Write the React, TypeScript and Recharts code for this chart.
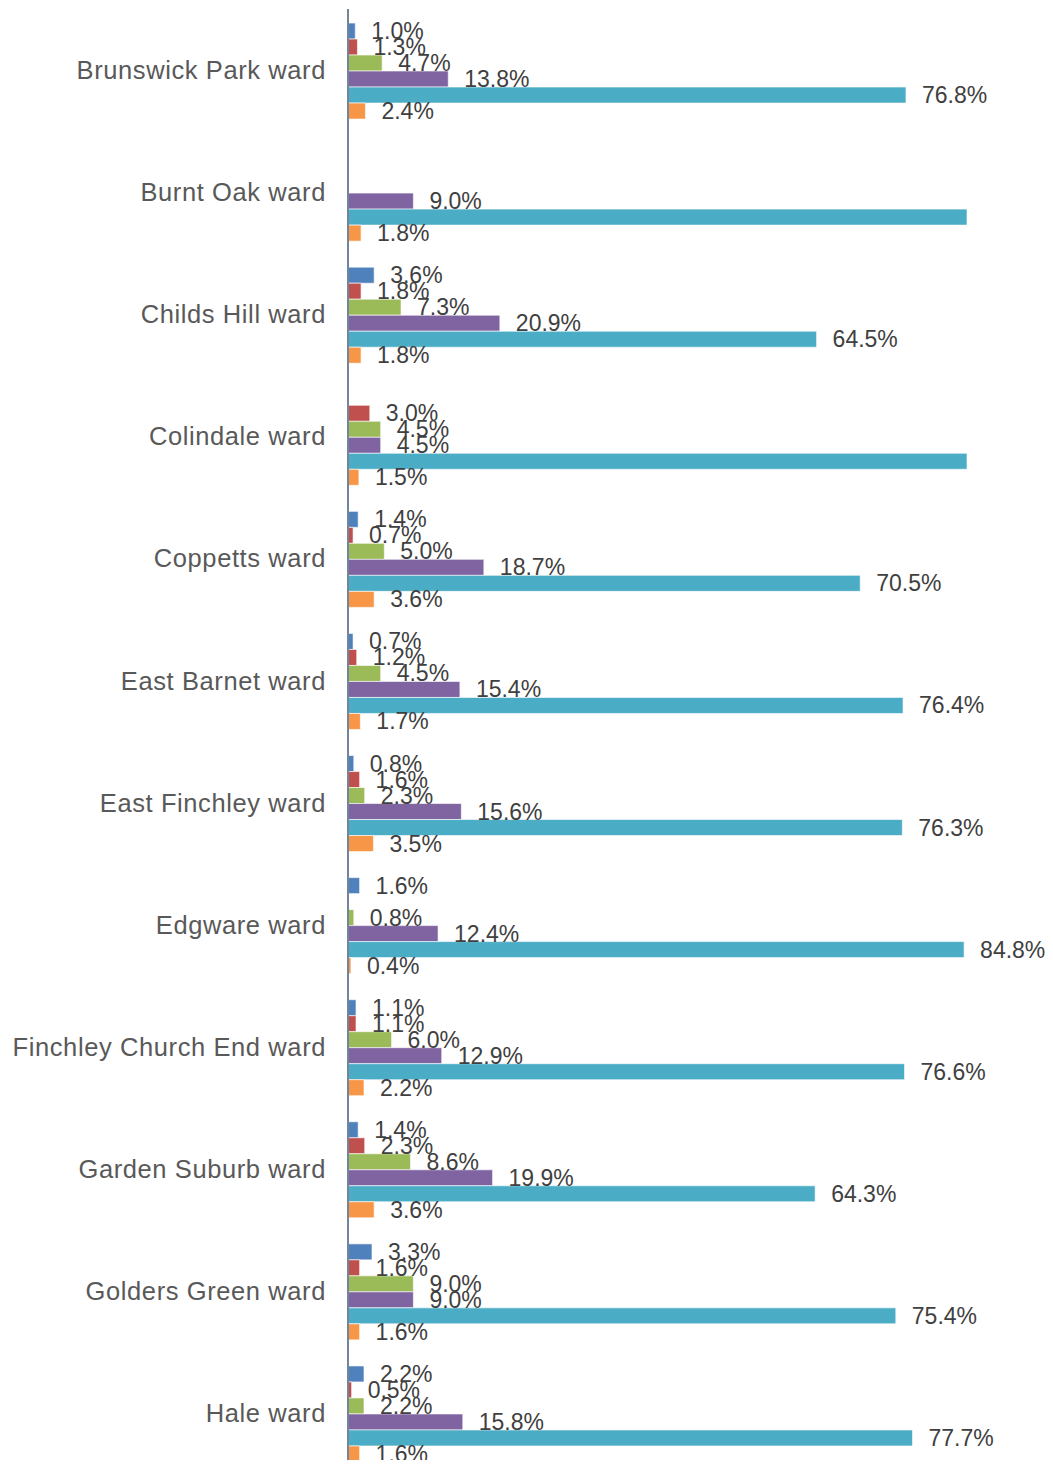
import { BarChart, Bar, XAxis, YAxis, LabelList } from 'recharts';

const wards = [
  'Brunswick Park ward',
  'Burnt Oak ward',
  'Childs Hill ward',
  'Colindale ward',
  'Coppetts ward',
  'East Barnet ward',
  'East Finchley ward',
  'Edgware ward',
  'Finchley Church End ward',
  'Garden Suburb ward',
  'Golders Green ward',
  'Hale ward',
];

// six series per ward, top to bottom in each group
const blue = [1.0, null, 3.6, null, 1.4, 0.7, 0.8, 1.6, 1.1, 1.4, 3.3, 2.2];
const red = [1.3, null, 1.8, 3.0, 0.7, 1.2, 1.6, null, 1.1, 2.3, 1.6, 0.5];
const green = [4.7, null, 7.3, 4.5, 5.0, 4.5, 2.3, 0.8, 6.0, 8.6, 9.0, 2.2];
const purple = [13.8, 9.0, 20.9, 4.5, 18.7, 15.4, 15.6, 12.4, 12.9, 19.9, 9.0, 15.8];
// Burnt Oak and Colindale run past the axis end in the original (no label shown)
const teal = [76.8, 89.2, 64.5, 86.5, 70.5, 76.4, 76.3, 84.8, 76.6, 64.3, 75.4, 77.7];
const orange = [2.4, 1.8, 1.8, 1.5, 3.6, 1.7, 3.5, 0.4, 2.2, 3.6, 1.6, 1.6];

const AXIS_MAX = 85.2;

const series = [
  { key: 'blue', color: '#4F81BD' },
  { key: 'red', color: '#C0504D' },
  { key: 'green', color: '#9BBB59' },
  { key: 'purple', color: '#8064A2' },
  { key: 'teal', color: '#4BACC6' },
  { key: 'orange', color: '#F79646' },
];

const cap = (v: number | null) => (v == null ? null : Math.min(v, AXIS_MAX));

const data = wards.map((ward, i) => ({
  ward,
  blue: cap(blue[i]),
  red: cap(red[i]),
  green: cap(green[i]),
  purple: cap(purple[i]),
  teal: cap(teal[i]),
  orange: cap(orange[i]),
}));

const FONT = '"Liberation Sans", Arial, sans-serif';

function ValueLabel(props: any) {
  const { x, y, width, height, value } = props;
  if (value == null || value >= AXIS_MAX) return null;
  return (
    <text
      x={Number(x) + Number(width) + 16}
      y={Number(y) + Number(height) / 2}
      dominantBaseline="central"
      fill="#404040"
      fontSize={23}
      fontFamily={FONT}
    >
      {Number(value).toFixed(1)}%
    </text>
  );
}

export default function App() {
  return (
    <div style={{ margin: -8, width: 1053, height: 1468, overflow: 'hidden', background: '#fff' }}>
      <BarChart
        width={1053}
        height={1474}
        data={data}
        layout="vertical"
        margin={{ top: 9, right: 86, bottom: 0, left: 0 }}
        barCategoryGap="11.5%"
        barGap={0}
      >
        <XAxis type="number" domain={[0, AXIS_MAX]} hide />
        <YAxis
          type="category"
          dataKey="ward"
          width={348}
          tickLine={false}
          tickSize={6}
          tickMargin={16}
          axisLine={{ stroke: '#728599', strokeWidth: 2 }}
          tick={{ fill: '#595959', fontSize: 25.5, fontFamily: FONT, letterSpacing: 0.6 }}
          interval={0}
        />
        {series.map((s) => (
          <Bar
            key={s.key}
            dataKey={s.key}
            fill={s.color}
            stroke="rgba(255,255,255,0.6)"
            strokeWidth={1}
            isAnimationActive={false}
          >
            <LabelList dataKey={s.key} content={<ValueLabel />} />
          </Bar>
        ))}
      </BarChart>
    </div>
  );
}
